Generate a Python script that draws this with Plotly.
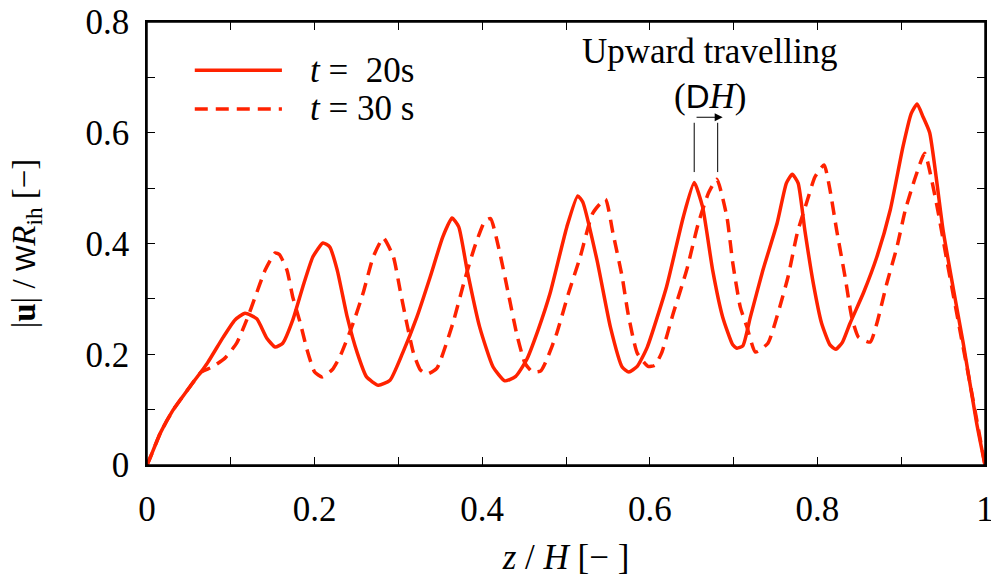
import plotly.graph_objects as go

# t = 20 s (solid)
z20 = [0, 0.004, 0.016, 0.031, 0.051, 0.072, 0.091, 0.105, 0.117, 0.131,
       0.143, 0.153, 0.162, 0.174, 0.186, 0.198, 0.210, 0.218, 0.227, 0.239,
       0.251, 0.262, 0.276, 0.290, 0.305, 0.322, 0.338, 0.353, 0.364, 0.372,
       0.382, 0.397, 0.413, 0.427, 0.440, 0.453, 0.467, 0.481, 0.501, 0.514,
       0.520, 0.537, 0.553, 0.567, 0.575, 0.585, 0.597, 0.620, 0.640, 0.653,
       0.663, 0.675, 0.687, 0.699, 0.704, 0.711, 0.720, 0.735, 0.752, 0.763,
       0.770, 0.777, 0.785, 0.795, 0.805, 0.815, 0.822, 0.830, 0.839, 0.855,
       0.871, 0.887, 0.902, 0.912, 0.919, 0.926, 0.934, 0.950, 0.962, 0.974,
       0.990, 1.0]
u20 = [0, 0.014, 0.058, 0.099, 0.141, 0.184, 0.231, 0.262, 0.274, 0.264,
       0.229, 0.213, 0.220, 0.262, 0.322, 0.376, 0.401, 0.394, 0.352, 0.267,
       0.202, 0.159, 0.144, 0.153, 0.202, 0.267, 0.340, 0.412, 0.446, 0.430,
       0.352, 0.249, 0.177, 0.152, 0.160, 0.190, 0.245, 0.310, 0.430, 0.486,
       0.475, 0.370, 0.249, 0.177, 0.168, 0.178, 0.213, 0.322, 0.448, 0.510,
       0.466, 0.352, 0.267, 0.217, 0.211, 0.215, 0.267, 0.352, 0.437, 0.509,
       0.525, 0.509, 0.424, 0.329, 0.256, 0.217, 0.209, 0.222, 0.256, 0.311,
       0.376, 0.461, 0.574, 0.635, 0.652, 0.629, 0.600, 0.424, 0.320, 0.220,
       0.076, 0.0]

# t = 30 s (dashed)
z30 = [0, 0.004, 0.016, 0.031, 0.051, 0.065, 0.078, 0.093, 0.107, 0.119,
       0.129, 0.141, 0.153, 0.158, 0.167, 0.174, 0.183, 0.191, 0.200, 0.209,
       0.221, 0.230, 0.246, 0.258, 0.270, 0.282, 0.294, 0.302, 0.310, 0.318,
       0.326, 0.334, 0.346, 0.365, 0.379, 0.391, 0.403, 0.410, 0.421, 0.431,
       0.441, 0.451, 0.460, 0.470, 0.477, 0.489, 0.503, 0.517, 0.532, 0.547,
       0.556, 0.567, 0.574, 0.585, 0.598, 0.606, 0.614, 0.628, 0.644, 0.658,
       0.670, 0.680, 0.692, 0.699, 0.708, 0.716, 0.726, 0.741, 0.755, 0.765,
       0.776, 0.788, 0.797, 0.808, 0.815, 0.823, 0.833, 0.841, 0.849, 0.863,
       0.871, 0.883, 0.895, 0.905, 0.917, 0.928, 0.942, 0.955, 0.970, 0.982,
       1.0]
u30 = [0, 0.014, 0.058, 0.099, 0.141, 0.168, 0.177, 0.193, 0.220, 0.262,
       0.303, 0.352, 0.383, 0.380, 0.352, 0.303, 0.256, 0.208, 0.168, 0.159,
       0.172, 0.195, 0.256, 0.311, 0.376, 0.410, 0.376, 0.316, 0.256, 0.202,
       0.172, 0.164, 0.175, 0.256, 0.334, 0.394, 0.440, 0.445, 0.383, 0.311,
       0.238, 0.184, 0.168, 0.170, 0.190, 0.238, 0.310, 0.376, 0.455, 0.480,
       0.419, 0.340, 0.274, 0.202, 0.178, 0.180, 0.202, 0.274, 0.352, 0.437,
       0.491, 0.516, 0.448, 0.365, 0.285, 0.249, 0.204, 0.220, 0.285, 0.340,
       0.419, 0.478, 0.520, 0.542, 0.497, 0.424, 0.340, 0.267, 0.231, 0.222,
       0.256, 0.329, 0.394, 0.461, 0.520, 0.563, 0.473, 0.365, 0.244, 0.148,
       0.0]

legend_labels = ["<i>t</i> = \u00a020s", "<i>t</i> = 30 s"]
x_ticks = [0, 0.2, 0.4, 0.6, 0.8, 1]
y_ticks = [0, 0.2, 0.4, 0.6, 0.8]

RED = "#ff2200"
FONT = "Liberation Serif"
SYM = "Liberation Sans"
FS = 35

fig = go.Figure()
fig.add_trace(go.Scatter(x=z20, y=u20, mode="lines", showlegend=False,
                         line=dict(color=RED, width=3.5, shape="spline", smoothing=0.5)))
fig.add_trace(go.Scatter(x=z30, y=u30, mode="lines", showlegend=False,
                         line=dict(color=RED, width=3.5, dash="13px,8px",
                                   shape="spline", smoothing=0.5)))

axis_common = dict(showline=True, linecolor="black", linewidth=1.5, mirror="ticks",
                   ticks="inside", ticklen=8, tickwidth=1.2, tickcolor="black",
                   showgrid=False, zeroline=False, automargin=False,
                   ticklabeloverflow="allow",
                   tickfont=dict(family=FONT, size=FS, color="black"),
                   minor=dict(dtick=0.1, ticks="inside", ticklen=8, tickwidth=1.2,
                              tickcolor="black", showgrid=False))

fig.update_xaxes(range=[0, 1], tickvals=x_ticks, ticktext=[f"{v:g}" for v in x_ticks],
                 ticklabelstandoff=12,
                 title=dict(text="<i>z</i> / <i>H</i> [\u2212 ]",
                            font=dict(family=FONT, size=FS, color="black"), standoff=17),
                 **axis_common)
fig.update_yaxes(range=[0, 0.8], tickvals=y_ticks, ticktext=[f"{v:g}" for v in y_ticks],
                 ticklabelstandoff=9,
                 title=dict(text=f"|<b>u</b>| / <span style=\"font-family:{SYM};font-size:27px\">W</span><i>R</i><sub>ih</sub> [\u2212]",
                            font=dict(family=FONT, size=33, color="black"), standoff=40),
                 **axis_common)

# plot frame
fig.add_shape(type="rect", xref="paper", yref="paper", x0=0, x1=1, y0=0, y1=1,
              line=dict(color="black", width=1.5))

# manual legend
leg_y = [0.713, 0.643]
dashes = ["solid", "dash"]
for yy, ds, lab in zip(leg_y, dashes, legend_labels):
    fig.add_shape(type="line", xref="x", yref="y", x0=0.057, x1=0.161, y0=yy, y1=yy,
                  line=dict(color=RED, width=3.5, dash="13px,8px" if ds == "dash" else "solid"))
    fig.add_annotation(x=0.192, y=yy, xref="x", yref="y", text=lab, showarrow=False,
                       xanchor="left", yanchor="middle",
                       font=dict(family=FONT, size=FS, color="black"))

# annotation
fig.add_annotation(x=0.672, y=0.746, xref="x", yref="y", text="Upward travelling",
                   showarrow=False, font=dict(family=FONT, size=FS, color="black"))
fig.add_annotation(x=0.672, y=0.665, xref="x", yref="y",
                   text=f"(<span style=\"font-family:{SYM};font-size:33px\">D</span><i>H</i>)",
                   showarrow=False, font=dict(family=FONT, size=FS, color="black"))
fig.add_annotation(x=0.687, y=0.628, ax=0.654, ay=0.628, xref="x", yref="y",
                   axref="x", ayref="y", text="", showarrow=True, arrowhead=2,
                   arrowsize=1.6, arrowwidth=1, arrowcolor="black")
for xv in [0.653, 0.681]:
    fig.add_shape(type="line", xref="x", yref="y", x0=xv, x1=xv, y0=0.529, y1=0.618,
                  line=dict(color="black", width=1))

fig.update_layout(width=991, height=584, paper_bgcolor="white", plot_bgcolor="white",
                  margin=dict(l=147, r=6, t=22, b=119),
                  font=dict(family=FONT, size=FS, color="black"))

fig.write_html("out.html", config={"displayModeBar": False},
               post_script="document.body.style.margin='0px';")
